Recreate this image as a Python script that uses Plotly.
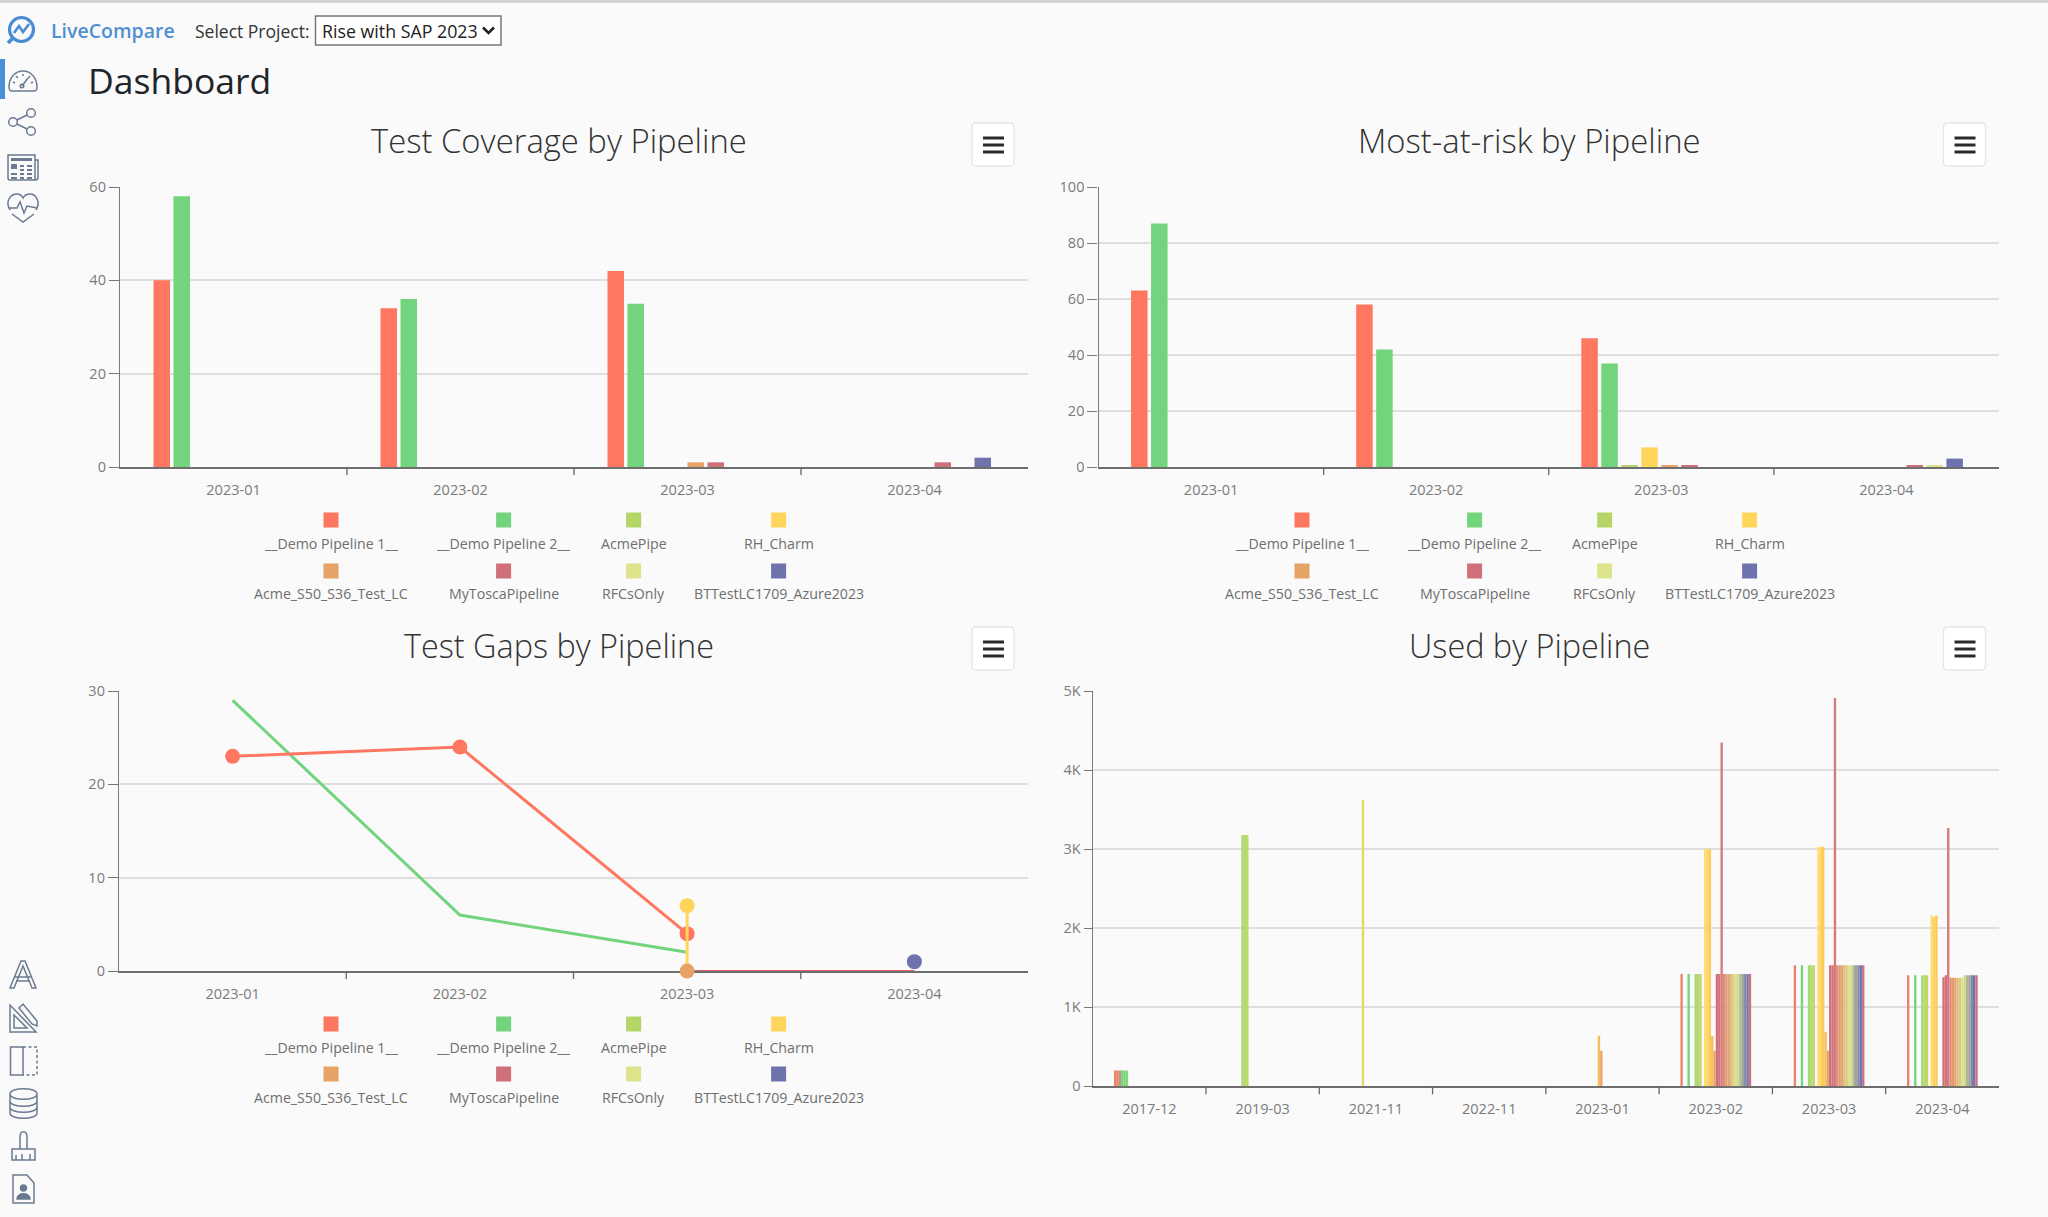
import plotly.graph_objects as go

W, H = 2048, 1217
BG = "#fafafa"
FONT = "Open Sans, Noto Sans, sans-serif"

# ---- data ----
pipelines = ["__Demo Pipeline 1__", "__Demo Pipeline 2__", "AcmePipe", "RH_Charm",
             "Acme_S50_S36_Test_LC", "MyToscaPipeline", "RFCsOnly", "BTTestLC1709_Azure2023"]
colors = ["#ff7661", "#72d47d", "#b5d667", "#ffd55b", "#e5a366", "#cf6f7a", "#dde48c", "#6e72ad"]
months = ["2023-01", "2023-02", "2023-03", "2023-04"]

cov_demo1 = [40, 34, 42, 0]
cov_demo2 = [58, 36, 35, 0]
cov_acme = [0, 0, 0, 0]
cov_charm = [0, 0, 0, 0]
cov_s50 = [0, 0, 1, 0]
cov_tosca = [0, 0, 1, 1]
cov_rfc = [0, 0, 0, 0]
cov_bt = [0, 0, 0, 2]

risk_demo1 = [63, 58, 46, 0]
risk_demo2 = [87, 42, 37, 0]
risk_acme = [0, 0, 0.5, 0]
risk_charm = [0, 0, 7, 0]
risk_s50 = [0, 0, 0.5, 0]
risk_tosca = [0, 0, 0.5, 0.5]
risk_rfc = [0, 0, 0, 0.5]
risk_bt = [0, 0, 0, 3]

gaps_demo1 = [23, 24, 4]
gaps_demo2 = [29, 6, 2]
gaps_charm_x = ["2023-03", "2023-03"]
gaps_charm = [7, 0]
gaps_s50_x = ["2023-03"]
gaps_s50 = [0]
gaps_tosca_x = ["2023-03", "2023-04"]
gaps_tosca = [0, 0]
gaps_bt_x = ["2023-04"]
gaps_bt = [1]

used_months = ["2017-12", "2019-03", "2021-11", "2022-11", "2023-01", "2023-02", "2023-03", "2023-04"]
used_ticks = [0, 1000, 2000, 3000, 4000, 5000]
used_labels = ["0", "1K", "2K", "3K", "4K", "5K"]
used_colors = ["#e8846a", "#f27d66", "#c9947a", "#72d47d", "#72d47d", "#86d578",
               "#a6d870", "#b4d86c", "#bdd666", "#e3d967",
               "#ffdc70", "#fed25c", "#f9cb5a", "#f4bd5e", "#e9a565",
               "#d06f79", "#d2727a", "#d6797a", "#dc8e78", "#e39a72", "#e3a672",
               "#dfbc80", "#dcca85", "#dfe08c", "#cfdc8c", "#b0b594", "#a0a59a",
               "#8288ab", "#7078ac", "#cc7080"]
used_2017_12 = [200, 200, 200, 200, 200, 200] + [0] * 24
used_2019_03 = [0] * 6 + [3180, 3180, 3180] + [0] * 21
used_2021_11 = [0] * 9 + [3620] + [0] * 20
used_2022_11 = [0] * 30
used_2023_01 = [0] * 13 + [640, 450] + [0] * 15
used_2023_02 = [1420, 0, 0, 1420, 0, 0, 1420, 1420, 1420, 0, 3000, 3000, 3000, 640, 450,
                1420, 1420, 4350, 1420, 1420, 1420, 1420, 1420, 1420, 1420, 1420, 1420, 1420, 1420, 1420]
used_2023_03 = [1530, 0, 0, 1530, 0, 0, 1530, 1530, 1530, 0, 3030, 3030, 3030, 690, 450,
                1530, 1530, 4910, 1530, 1530, 1530, 1530, 1530, 1530, 1530, 1530, 1530, 1530, 1530, 1530]
used_2023_04 = [1405, 0, 0, 1405, 0, 0, 1405, 1405, 1405, 0, 2160, 2140, 2160, 0, 0,
                1378, 1405, 3266, 1374, 1374, 1374, 1374, 1374, 1374, 1405, 1405, 1405, 1405, 1405, 1405]
used_rows = [used_2017_12, used_2019_03, used_2021_11, used_2022_11,
             used_2023_01, used_2023_02, used_2023_03, used_2023_04]

coverage = [cov_demo1, cov_demo2, cov_acme, cov_charm, cov_s50, cov_tosca, cov_rfc, cov_bt]
risk = [risk_demo1, risk_demo2, risk_acme, risk_charm, risk_s50, risk_tosca, risk_rfc, risk_bt]

fig = go.Figure()
shapes = []
notes = []


def add_axes(n, left, right, top, bottom, cats, ymax, ticks, labels=None, ticklen=10):
    fig.layout[f"xaxis{n}"] = dict(
        domain=[left / W, right / W], anchor=f"y{n}", type="category", automargin=False,
        categoryorder="array", categoryarray=cats, range=[-0.5, len(cats) - 0.5],
        tickson="boundaries", ticks="", ticklen=8, layer="below traces",
        showline=True, linecolor="#6e6e6e", linewidth=1.5, showgrid=False,
        tickfont=dict(family=FONT, size=14.5, color="#7a7a7a"), ticklabelstandoff=9)
    fig.layout[f"yaxis{n}"] = dict(
        domain=[1 - bottom / H, 1 - top / H], anchor=f"x{n}", range=[0, ymax], automargin=False,
        tickvals=ticks, ticktext=labels or [str(t) for t in ticks],
        ticks="outside", ticklen=ticklen, tickcolor="#777", tickwidth=1.3,
        showline=True, linecolor="#7a7a7a", linewidth=1.3,
        showgrid=True, gridcolor="#dedede", gridwidth=1.5, zeroline=False,
        tickfont=dict(family=FONT, size=14.5, color="#7a7a7a"))
    # only the inner category boundaries carry a tick
    band = (right - left) / len(cats)
    for k in range(1, len(cats)):
        bx = left + k * band
        shapes.append(dict(type="line", x0=bx, x1=bx, y0=bottom, y1=bottom + 8, xref="x5", yref="y5",
                           line=dict(color="#666", width=1.3)))


def add_group(n, rows, cols, band):
    # bars are placed by hand inside the band, like the original chart lib does
    pitch = 20 / band
    for i, vals in enumerate(rows):
        fig.add_trace(go.Bar(x=months, y=vals, name=pipelines[i], marker_color=cols[i],
                             marker_line_width=0, width=16.5 / band,
                             offset=-4 * pitch + i * pitch,
                             xaxis=f"x{n}", yaxis=f"y{n}", showlegend=False))


add_axes(1, 120, 1028, 187, 467, months, 60, [0, 20, 40, 60])
add_group(1, coverage, colors, 227)

add_axes(2, 1098.5, 1999, 187, 467, months, 100, [0, 20, 40, 60, 80, 100])
add_group(2, risk, colors, 225.1)

add_axes(3, 119, 1028, 691, 971, months, 30, [0, 10, 20, 30])
# second y axis on the same scale: its traces draw over the x axis line at 0
fig.layout["yaxis6"] = dict(overlaying="y3", anchor="x3", range=[0, 30], visible=False,
                            automargin=False, showgrid=False, zeroline=False)
line_marker = dict(size=15)
fig.add_trace(go.Scatter(x=months[:3], y=gaps_demo2, mode="lines", name=pipelines[1],
                         line=dict(color=colors[1], width=3),
                         xaxis="x3", yaxis="y3", showlegend=False, cliponaxis=False))
fig.add_trace(go.Scatter(x=months[:3], y=gaps_demo1, mode="lines+markers", name=pipelines[0],
                         line=dict(color=colors[0], width=3), marker=dict(color=colors[0], **line_marker),
                         xaxis="x3", yaxis="y3", showlegend=False, cliponaxis=False))
fig.add_trace(go.Scatter(x=gaps_tosca_x, y=gaps_tosca, mode="lines", name=pipelines[5],
                         line=dict(color="#e0606c", width=2),
                         xaxis="x3", yaxis="y6", showlegend=False, cliponaxis=False))
fig.add_trace(go.Scatter(x=gaps_charm_x, y=gaps_charm, mode="lines", name=pipelines[3],
                         line=dict(color=colors[3], width=3),
                         xaxis="x3", yaxis="y6", showlegend=False, cliponaxis=False))
fig.add_trace(go.Scatter(x=gaps_charm_x[:1], y=gaps_charm[:1], mode="markers", name=pipelines[3],
                         marker=dict(color=colors[3], **line_marker),
                         xaxis="x3", yaxis="y6", showlegend=False, cliponaxis=False))
fig.add_trace(go.Scatter(x=gaps_s50_x, y=gaps_s50, mode="markers", name=pipelines[4],
                         marker=dict(color=colors[4], **line_marker),
                         xaxis="x3", yaxis="y6", showlegend=False, cliponaxis=False))
fig.add_trace(go.Scatter(x=gaps_bt_x, y=gaps_bt, mode="markers", name=pipelines[7],
                         marker=dict(color=colors[7], **line_marker),
                         xaxis="x3", yaxis="y6", showlegend=False, cliponaxis=False))

add_axes(4, 1092.7, 1999, 691, 1086.3, used_months, 5000, used_ticks, used_labels, ticklen=8)
pitch4 = 2.357 / 113.3
for i, col in enumerate(used_colors):
    fig.add_trace(go.Bar(x=used_months, y=[row[i] for row in used_rows], marker_color=col,
                         marker_line_width=0, width=pitch4, offset=(i - 15) * pitch4,
                         xaxis="x4", yaxis="y4", showlegend=False, name=f"Pipeline {i + 1}"))

# pixel-space overlay for the page chrome around the charts
fig.layout["xaxis5"] = dict(domain=[0, 1], range=[0, W], visible=False, anchor="y5", automargin=False)
fig.layout["yaxis5"] = dict(domain=[0, 1], range=[H, 0], visible=False, anchor="x5", automargin=False)
fig.add_trace(go.Scatter(x=[0], y=[0], mode="none", xaxis="x5", yaxis="y5",
                         hoverinfo="skip", showlegend=False))


def note(x, y, text, size, color, anchor="center", weight=400):
    notes.append(dict(x=x, y=y, xref="x5", yref="y5", text=text, showarrow=False,
                      xanchor=anchor, yanchor="middle", borderpad=0,
                      font=dict(family=FONT, size=size, color=color, weight=weight)))


def path(d, color="#6b7a90", width=1.5, fill=None, dash=None):
    shapes.append(dict(type="path", path=d, xref="x5", yref="y5",
                       line=dict(color=color, width=width, dash=dash),
                       fillcolor=fill or "rgba(0,0,0,0)"))


def rect(x0, y0, x1, y1, fill, line=None, width=0):
    shapes.append(dict(type="rect", x0=x0, y0=y0, x1=x1, y1=y1, xref="x5", yref="y5",
                       fillcolor=fill, line=dict(color=line or fill, width=width)))


def circle(cx, cy, r, color="#6b7a90", width=1.5, fill=None):
    shapes.append(dict(type="circle", x0=cx - r, y0=cy - r, x1=cx + r, y1=cy + r, xref="x5", yref="y5",
                       line=dict(color=color, width=width), fillcolor=fill or "rgba(0,0,0,0)"))


def legend(dx, marker_y1, text_y1, marker_y2, text_y2):
    xs = [331 + dx, 503.6 + dx, 633.6 + dx, 778.6 + dx]
    for i, name in enumerate(pipelines):
        mx = xs[i % 4]
        my, ty = (marker_y1, text_y1) if i < 4 else (marker_y2, text_y2)
        rect(mx - 7.5, my - 7.5, mx + 7.5, my + 7.5, colors[i])
        note(mx, ty, name, 14.2, "#6e6e6e")


def menu(x0, y0):
    shapes.append(dict(type="path", xref="x5", yref="y5", fillcolor="#ffffff",
                       line=dict(color="#e6e6e6", width=1.3),
                       path=f"M{x0 + 4},{y0} L{x0 + 38},{y0} Q{x0 + 42},{y0} {x0 + 42},{y0 + 4} "
                            f"L{x0 + 42},{y0 + 39} Q{x0 + 42},{y0 + 43} {x0 + 38},{y0 + 43} "
                            f"L{x0 + 4},{y0 + 43} Q{x0},{y0 + 43} {x0},{y0 + 39} "
                            f"L{x0},{y0 + 4} Q{x0},{y0} {x0 + 4},{y0} Z"))
    for dy in (15, 22, 29):
        rect(x0 + 11, y0 + dy - 1.5, x0 + 32, y0 + dy + 1.5, "#2a2a2a")


rect(0, 0, W, 3, "#d2d2d2")

# header
circle(21.5, 29.5, 12, "#4a8cd4", 3.2)
path("M14,33 L19,26 L23,32 L29,24", "#4a8cd4", 2.6)
path("M12.5,38.5 L8,43", "#4a8cd4", 3.8)
note(50, 30.5, "LiveCompare", 19.5, "#4f8fd3", "left", 600)
note(194, 31, "Select Project:", 17.5, "#333333", "left")
rect(315.5, 16, 501, 45, "#ffffff", "#777777", 1.5)
note(320.5, 31, "Rise with SAP 2023", 17.8, "#222222", "left")
path("M483,27.5 L488.5,33 L494,27.5", "#222222", 2.6)
note(87, 79.5, "Dashboard", 35.5, "#212529", "left")

# sidebar, top group
rect(0, 59, 5, 99, "#4a90d9")
path("M9,87 C9,78 15,71 23,71 C31,71 37,78 37,87 Q37,91 34,91 L12,91 Q9,91 9,87 Z")
path("M22,86 L28,78")
circle(22, 86, 1.8)
path("M13,82 L15,83 M16,76 L18,78 M23,74 L23,76 M30,76 L28.5,78 M33,82 L31,83")
circle(31, 113, 4.3)
circle(31, 131, 4.3)
circle(13, 122, 4.3)
path("M17,120 L27,115 M17,124 L27,129")
path("M8,155 L35,155 L35,180 L10,180 Q8,180 8,178 Z M35,160 L38,160 L38,178 Q38,180 35,180")
rect(11, 158, 32, 161, "#6b7a90")
rect(11, 164, 17, 169, "#6b7a90")
path("M20,166 L24,166 M27,166 L32,166 M20,170 L24,170 M27,170 L32,170 "
     "M11,174 L17,174 M20,174 L24,174 M27,174 L32,174 M11,178 L17,178 M20,178 L24,178 M27,178 L32,178",
     width=1.8)
path("M10,210 C5,202 10,194 17,194 C20,194 22,196 23,198 C24,196 27,194 30,194 "
     "C36,194 41,202 36,210")
path("M9,208 L17,208 L20,202 L24,213 L27,206 L37,208")
path("M12,214 L23,222 L34,214")

# sidebar, bottom group
path("M10,988 L21,961 L25,961 L36,988 L32,988 L23,966 L14,988 Z M15,977 L31,977 M16,981 L30,981")
path("M10,1005 L10,1032 L36,1032 Z M14,1015 L14,1028 L27,1028 Z")
path("M19,1008 L23,1004 L37,1021 L37,1026 L32,1024 Z")
rect(10.5, 1047, 23, 1075, "rgba(0,0,0,0)", "#6b7a90", 1.5)
path("M23,1047 L37,1047 L37,1075 L23,1075", dash="3px,2.5px")
path("M10,1094 C10,1087 37,1087 37,1094 C37,1101 10,1101 10,1094 Z "
     "M10,1094 L10,1113 C10,1120 37,1120 37,1113 L37,1094 "
     "M10,1101 C10,1108 37,1108 37,1101 M10,1107 C10,1114 37,1114 37,1107")
path("M20,1149 L20,1137 C20,1130 27,1130 27,1137 L27,1149 M12,1149 L35,1149 L35,1160 L12,1160 Z "
     "M16,1160 L16,1155 M22,1160 L22,1154 M30,1160 L30,1154")
path("M13,1175 L27,1175 L34,1183 L34,1203 L13,1203 Z")
circle(23.5, 1188, 3, fill="#6b7a90")
path("M17,1199 C17,1192 30,1192 30,1199 Z", fill="#6b7a90")

# chart titles, menus and legends
note(558.5, 140.5, "Test Coverage by Pipeline", 32.8, "#333333", weight=300)
note(1529, 140.5, "Most-at-risk by Pipeline", 32.8, "#333333", weight=300)
note(558.5, 645, "Test Gaps by Pipeline", 32.4, "#333333", weight=300)
note(1529, 645, "Used by Pipeline", 32.4, "#333333", weight=300)
menu(972, 123)
menu(1943.5, 123)
menu(972, 627)
menu(1943.5, 627)
legend(0, 520, 543, 571, 593.5)
legend(971, 520, 543, 571, 593.5)
legend(0, 1024, 1047, 1074, 1097)

fig.update_layout(
    width=W, height=H, margin=dict(l=0, r=0, t=0, b=0, pad=0),
    paper_bgcolor=BG, plot_bgcolor="rgba(0,0,0,0)", barmode="overlay",
    showlegend=False, shapes=shapes, annotations=notes,
)

reset = ("document.body.style.margin='0';document.body.style.background='%s';"
         "document.documentElement.style.overflow='hidden';" % BG)
fig.write_html("out.html", post_script=reset, config=dict(displayModeBar=False))
